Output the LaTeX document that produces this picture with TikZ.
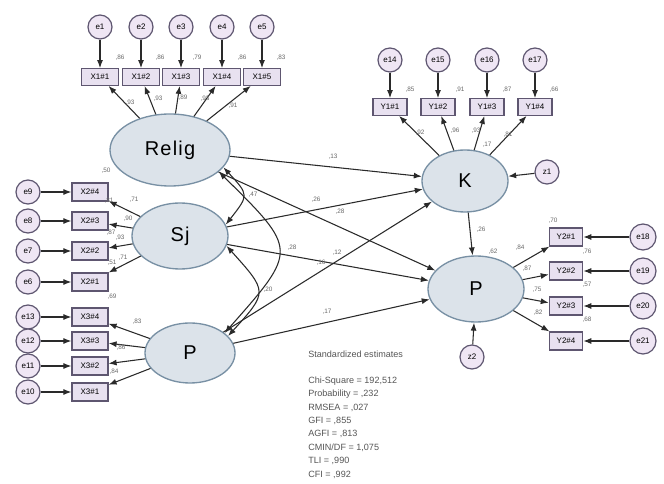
\documentclass[tikz,border=0pt]{standalone}
\usepackage{fontspec}
\setmainfont{Liberation Sans}
\usetikzlibrary{arrows.meta,shapes.geometric}
\definecolor{latf}{HTML}{DCE3EA}
\definecolor{latb}{HTML}{7890A4}
\definecolor{boxf}{HTML}{E8E1F0}
\definecolor{boxb}{HTML}{5E5670}
\definecolor{errf}{HTML}{EFE6F4}
\definecolor{lnc}{HTML}{2A2A2A}
\definecolor{lab}{HTML}{6A6A6A}
\definecolor{stc}{HTML}{555555}
\begin{document}
\begin{tikzpicture}[x=0.75pt,y=-0.75pt,
 lat/.style={ellipse,draw=latb,fill=latf,line width=1pt,inner sep=0pt,font=\fontsize{15}{15}\selectfont\addfontfeature{LetterSpace=6}},
 obs/.style={rectangle,draw=boxb,fill=boxf,line width=0.9pt,inner sep=0pt,minimum width=28pt,minimum height=12.5pt,font=\fontsize{6}{6}\selectfont},
 err/.style={circle,draw=boxb,fill=errf,line width=0.9pt,inner sep=0pt,minimum size=18pt,font=\fontsize{6}{6}\selectfont},
 arr/.style={-{Latex[length=6pt,width=4.5pt]},draw=lnc,line width=0.8pt},
 cov/.style={{Latex[length=6pt,width=4.5pt]}-{Latex[length=6pt,width=4.5pt]},draw=lnc,line width=0.8pt},
 lb/.style={font=\fontsize{4.8}{4.8}\selectfont,text=lab,inner sep=0pt},
 st/.style={font=\fontsize{6.8}{6.8}\selectfont,text=stc,anchor=west,inner sep=0pt}]
\useasboundingbox (0,0) rectangle (664,484);

% latent variables
\node[lat,minimum width=90pt,minimum height=54pt] (relig) at (170,150) {Relig};
\node[lat,minimum width=72pt,minimum height=49.5pt] (sj) at (180,236) {Sj};
\node[lat,minimum width=67.5pt,minimum height=45pt] (pl) at (190,353) {P};
\node[lat,minimum width=64.5pt,minimum height=46.5pt] (k) at (465,181) {K};
\node[lat,minimum width=72pt,minimum height=49.5pt] (pr) at (476,289) {P};

% X1 indicators
\foreach \i/\x in {1/100,2/141,3/181,4/222,5/262}{
  \node[obs] (x1\i) at (\x,77) {X1\#\i};
  \node[err] (e\i) at (\x,27) {e\i};
  \draw[arr] (e\i) -- (x1\i);
  \draw[arr] (relig) -- (x1\i);
}
% Y1 indicators
\foreach \i/\x/\e in {1/390/14,2/438/15,3/487/16,4/535/17}{
  \node[obs,minimum width=25.5pt] (y1\i) at (\x,107) {Y1\#\i};
  \node[err] (e\e) at (\x,60) {e\e};
  \draw[arr] (e\e) -- (y1\i);
  \draw[arr] (k) -- (y1\i);
}
% X2 indicators
\foreach \i/\y/\e in {4/192/9,3/221/8,2/251/7,1/282/6}{
  \node[obs,minimum width=27pt,minimum height=13.5pt] (x2\i) at (90,\y) {X2\#\i};
  \node[err] (e\e) at (28,\y) {e\e};
  \draw[arr] (e\e) -- (x2\i);
  \draw[arr] (sj) -- (x2\i);
}
% X3 indicators
\foreach \i/\y/\e in {4/317/13,3/341/12,2/366/11,1/392/10}{
  \node[obs,minimum width=27pt,minimum height=13.5pt] (x3\i) at (90,\y) {X3\#\i};
  \node[err] (e\e) at (28,\y) {e\e};
  \draw[arr] (e\e) -- (x3\i);
  \draw[arr] (pl) -- (x3\i);
}
% Y2 indicators
\foreach \i/\y/\e in {1/237/18,2/271/19,3/306/20,4/341/21}{
  \node[obs,minimum width=25pt,minimum height=13.5pt] (y2\i) at (566,\y) {Y2\#\i};
  \node[err,minimum size=19.5pt] (e\e) at (643,\y) {e\e};
  \draw[arr] (e\e) -- (y2\i);
  \draw[arr] (pr) -- (y2\i);
}
% disturbances
\node[err] (z1) at (547,172) {z1};
\node[err] (z2) at (472,357) {z2};
\draw[arr] (z1) -- (k);
\draw[arr] (z2) -- (pr);

% structural paths
\draw[arr] (relig) -- (k);
\draw[arr] (relig) -- (pr);
\draw[arr] (sj) -- (k);
\draw[arr] (sj) -- (pr);
\draw[arr] (pl) -- (k);
\draw[arr] (pl) -- (pr);
\draw[arr] (k) -- (pr);

% covariances
\draw[cov] (relig.-18) .. controls (249,195) .. (sj.14);
\draw[cov] (sj.-12) .. controls (268,292) .. (pl.24);
\draw[cov] (relig.-24) .. controls (298,250) .. (pl.30);

% coefficient labels
\node[lb] (r1) at (120,58) {,86};
\node[lb] (r2) at (160,58) {,86};
\node[lb] (r3) at (197,58) {,79};
\node[lb] (r4) at (242,58) {,86};
\node[lb] (r5) at (281,58) {,83};
\node[lb] (l1) at (130,103) {,93};
\node[lb] (l2) at (158,99) {,93};
\node[lb] (l3) at (183,98) {,89};
\node[lb] (l4) at (205,99) {,93};
\node[lb] (l5) at (233,106) {,91};
\node[lb] (r14) at (410,90) {,85};
\node[lb] (r15) at (460,90) {,91};
\node[lb] (r16) at (507,90) {,87};
\node[lb] (r17) at (554,90) {,66};
\node[lb] (m1) at (420,133) {,92};
\node[lb] (m2) at (455,131) {,96};
\node[lb] (m3) at (476,131) {,93};
\node[lb] (m4) at (508,135) {,81};
\node[lb] (rk) at (487,145) {,17};
\node[lb] (rp) at (493,252) {,62};
\node[lb] (s20) at (553,221) {,70};
\node[lb] (s21) at (587,252) {,76};
\node[lb] (s22) at (587,285) {,57};
\node[lb] (s23) at (587,320) {,68};
\node[lb] (n1) at (520,248) {,84};
\node[lb] (n2) at (527,269) {,87};
\node[lb] (n3) at (537,290) {,75};
\node[lb] (n4) at (538,313) {,82};
\node[lb] (q1) at (106,171) {,50};
\node[lb] (q2) at (109,201) {,81};
\node[lb] (q3) at (111,233) {,87};
\node[lb] (q4) at (112,263) {,51};
\node[lb] (q5) at (112,297) {,69};
\node[lb] (w1) at (134,200) {,71};
\node[lb] (w2) at (128,219) {,90};
\node[lb] (w3) at (120,238) {,93};
\node[lb] (w4) at (123,258) {,71};
\node[lb] (v1) at (137,322) {,83};
\node[lb] (v2) at (121,348) {,86};
\node[lb] (v3) at (114,372) {,84};
\node[lb] (c1) at (333,157) {,13};
\node[lb] (c2) at (316,200) {,26};
\node[lb] (c3) at (340,212) {,28};
\node[lb] (c4) at (292,248) {,28};
\node[lb] (c5) at (337,253) {,12};
\node[lb] (c6) at (321,263) {,16};
\node[lb] (c7) at (327,312) {,17};
\node[lb] (c8) at (253,195) {,47};
\node[lb] (c9) at (268,290) {,20};
\node[lb] (c10) at (481,230) {,26};

% fit statistics
\node[st] (t0) at (308,354) {Standardized estimates};
\node[st] (t1) at (308,381) {Chi-Square = 192,512};
\node[st] (t2) at (308,394) {Probability = ,232};
\node[st] (t3) at (308,408) {RMSEA = ,027};
\node[st] (t4) at (308,421) {GFI = ,855};
\node[st] (t5) at (308,434) {AGFI = ,813};
\node[st] (t6) at (308,448) {CMIN/DF = 1,075};
\node[st] (t7) at (308,461) {TLI = ,990};
\node[st] (t8) at (308,475) {CFI = ,992};
\end{tikzpicture}
\end{document}
